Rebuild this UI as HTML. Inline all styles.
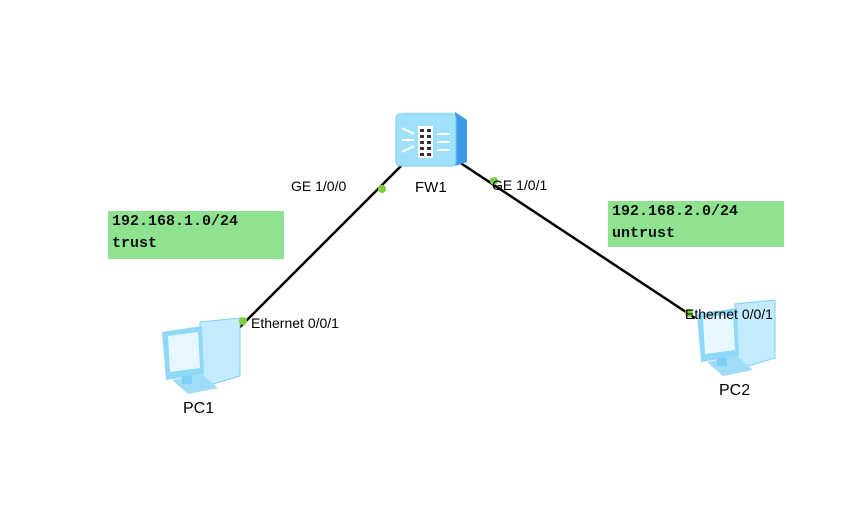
<!DOCTYPE html>
<html><head><style>
body{margin:0;background:#fff;width:865px;height:514px;overflow:hidden;position:relative;font-family:"Liberation Sans",sans-serif}
.t{position:absolute;font-size:14px;color:#000}
.box{position:absolute;background:#8fe28f;font-family:"Liberation Mono",monospace;font-size:15px;font-weight:bold;line-height:22px;padding:0 4px;color:#111}
</style></head><body>
<svg width="865" height="514" style="position:absolute;left:0;top:0">
<defs>
<g id="pc">
<polygon points="38,4 78,0 78,58 38,70" fill="#c4ebfd" stroke="#7ccff5"/>
<polygon points="0,14 40,8 42,56 4,62" fill="#8fd8f7"/>
<polygon points="6,18 36,14 38,50 8,54" fill="#e6f7ff"/>
<polygon points="10,62 40,56 56,70 26,76" fill="#9fdcf7"/>
<rect x="20" y="58" width="10" height="8" fill="#7ccff5"/>
</g>
</defs>
<line x1="403" y1="164" x2="237" y2="330" stroke="#000" stroke-width="2.5"/>
<line x1="456" y1="160" x2="695" y2="318" stroke="#000" stroke-width="2.5"/>
<polygon points="400,112 455,112 467,120 412,120" fill="#d5f1fd"/>
<polygon points="455,112 467,120 467,162 455,166" fill="#3d9ae8"/>
<rect x="396" y="114" width="60" height="52" rx="4" fill="#9fe0fb" stroke="#7cc9ef"/>
<rect x="418" y="126" width="15" height="32" fill="#fff"/>
<g fill="#333"><rect x="420" y="129" width="4" height="3"/><rect x="427" y="129" width="4" height="3"/><rect x="420" y="135" width="4" height="3"/><rect x="427" y="135" width="4" height="3"/><rect x="420" y="141" width="4" height="3"/><rect x="427" y="141" width="4" height="3"/><rect x="420" y="147" width="4" height="3"/><rect x="427" y="147" width="4" height="3"/><rect x="420" y="153" width="4" height="3"/><rect x="427" y="153" width="4" height="3"/></g>
<g stroke="#fff" stroke-width="2"><line x1="402" y1="128" x2="414" y2="134"/><line x1="402" y1="140" x2="414" y2="140"/><line x1="402" y1="152" x2="414" y2="146"/><line x1="437" y1="134" x2="450" y2="134"/><line x1="437" y1="142" x2="450" y2="142"/><line x1="437" y1="150" x2="450" y2="150"/></g>
<use href="#pc" x="162" y="318"/>
<use href="#pc" x="697" y="300"/>
<circle cx="382" cy="189" r="4" fill="#7ed03a"/>
<circle cx="494" cy="181" r="4" fill="#7ed03a"/>
<circle cx="243" cy="321" r="4" fill="#7ed03a"/>
<circle cx="689" cy="313" r="4" fill="#7ed03a"/>
</svg>
<div class="t" style="left:291px;top:178px">GE 1/0/0</div>
<div class="t" style="left:415px;top:179px;font-size:15px">FW1</div>
<div class="t" style="left:492px;top:177px">GE 1/0/1</div>
<div class="t" style="left:251px;top:315px">Ethernet 0/0/1</div>
<div class="t" style="left:685px;top:306px">Ethernet 0/0/1</div>
<div class="t" style="left:183px;top:400px;font-size:16px">PC1</div>
<div class="t" style="left:719px;top:382px;font-size:16px">PC2</div>
<div class="box" style="left:108px;top:211px;width:168px;height:48px">192.168.1.0/24<br>trust</div>
<div class="box" style="left:608px;top:201px;width:168px;height:46px">192.168.2.0/24<br>untrust</div>
</body></html>
